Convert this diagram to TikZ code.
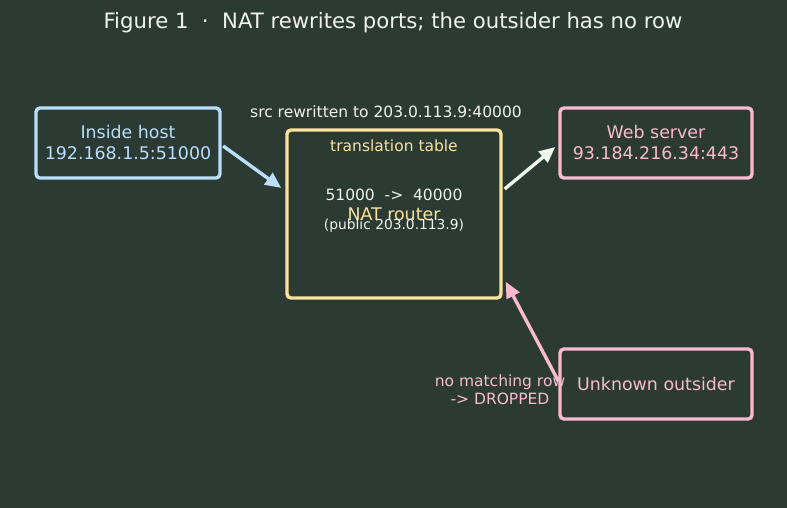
\documentclass[tikz,border=0pt]{standalone}
\usepackage{fontspec}
\setmainfont{DejaVu Sans}
\usetikzlibrary{arrows.meta,calc}
\definecolor{bg}{HTML}{2B3A33}
\definecolor{cblue}{HTML}{BBDEFB}
\definecolor{cyel}{HTML}{FBE39B}
\definecolor{cpink}{HTML}{F8BBD0}
\definecolor{cwhite}{HTML}{EEF5EA}
\definecolor{ctext}{HTML}{EEF3EE}
\tikzset{
  box/.style={draw, line width=3.4pt, rounded corners=4pt, fill=bg, inner sep=0pt, align=center},
  lbl/.style={inner sep=0pt, align=center},
  conn/.style={line width=3.4pt, -{Triangle[length=16pt,width=14pt]}, shorten >=0pt},
  fbig/.style={font=\fontsize{17.4}{21}\selectfont},
  fmid/.style={font=\fontsize{15.5}{18}\selectfont},
  fsmall/.style={font=\fontsize{13.8}{16}\selectfont},
}
\begin{document}
\begin{tikzpicture}[x=1pt,y=-1pt]
\fill[bg] (0,0) rectangle (787,508);
\useasboundingbox (0,0) rectangle (787,508);

\node[lbl, text=ctext, font=\fontsize{21.2}{25}\selectfont] (title) at (393,23) {Figure 1\ \ ·\ \ NAT rewrites ports; the outsider has no row};

\node[box, draw=cblue, text=cblue, fbig, minimum width=184pt, minimum height=70pt] (inside) at (128,143) {Inside host\\192.168.1.5:51000};
\node[box, draw=cyel, minimum width=214pt, minimum height=168pt] (nat) at (394,214) {};
\node[box, draw=cpink, text=cpink, fbig, minimum width=192pt, minimum height=70pt] (web) at (656,143) {Web server\\93.184.216.34:443};
\node[box, draw=cpink, text=cpink, fbig, minimum width=192pt, minimum height=70pt] (unk) at (656,384) {Unknown outsider};

\node[lbl, text=cyel, fmid] (tt) at (394,146) {translation table};
\node[lbl, text=ctext, fmid] (row) at (394,195) {51000\ \ ->\ \ 40000};
\node[lbl, text=cyel, fbig] (natlbl) at (394,214) {NAT router};
\node[lbl, text=ctext, fsmall] (pub) at (394,226) {(public 203.0.113.9)};

\node[lbl, text=ctext, fmid] (src) at (386,112) {src rewritten to 203.0.113.9:40000};
\node[lbl, text=cpink, fmid] (drop) at (500,390) {no matching row\\-> DROPPED};

\draw[conn, cblue] ($(inside.east)+(1.5,3)$) -- ($(nat.west)+(-4,-26)$);
\draw[conn, cwhite] ($(nat.east)+(2,-25)$) -- ($(web.west)+(-3,4)$);
\draw[conn, cpink] ($(unk.west)+(0,-3)$) -- ($(nat.south east)+(3,-18)$);
\end{tikzpicture}
\end{document}
